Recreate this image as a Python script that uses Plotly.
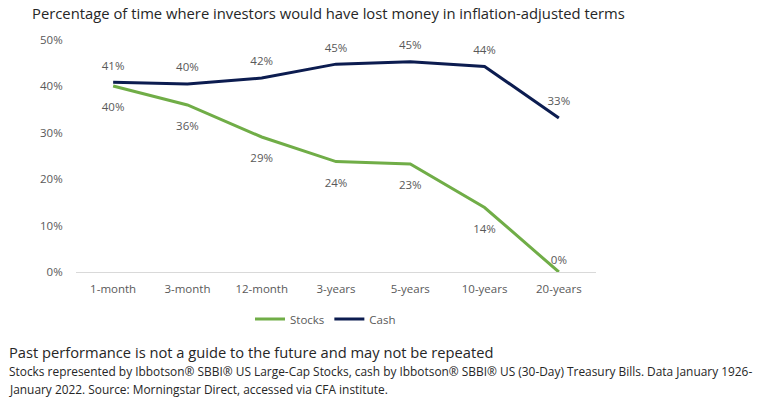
import plotly.graph_objects as go

categories = ["1-month", "3-month", "12-month", "3-years", "5-years", "10-years", "20-years"]
stocks = [40.1, 36.0, 29.1, 23.8, 23.3, 13.9, 0.0]
cash = [40.9, 40.5, 41.8, 44.8, 45.3, 44.3, 33.2]
stocks_pos = ["bottom center"] * 6 + ["top center"]
cash_pos = ["top center"] * 7
y_ticks = [0, 10, 20, 30, 40, 50]
y_ticklabels = ["0%", "10%", "20%", "30%", "40%", "50%"]

title_text = "Percentage of time where investors would have lost money in inflation-adjusted terms"
foot1 = "Past performance is not a guide to the future and may not be repeated"
foot2 = ("Stocks represented by Ibbotson® SBBI® US Large-Cap Stocks, cash by Ibbotson® SBBI® US "
         "(30-Day) Treasury Bills. Data January 1926-")
foot3 = "January 2022. Source: Morningstar Direct, accessed via CFA institute."

GREEN = "#70AD47"
NAVY = "#0C1C50"
LABEL = "#595959"
FONT = "Open Sans"

# invisible marker sizes only control the label offset from the line
stocks_msize = [25] * 6 + [6]
cash_msize = [14] * 7

fig = go.Figure()
fig.add_trace(go.Scatter(
    x=categories, y=stocks, name="Stocks", mode="lines+markers+text",
    line=dict(color=GREEN, width=3),
    marker=dict(size=stocks_msize, color="rgba(0,0,0,0)", line=dict(width=0, color="rgba(0,0,0,0)")),
    text=[f"{round(v)}%" for v in stocks], textposition=stocks_pos,
    textfont=dict(family=FONT, size=11.5, color=LABEL),
    hoverinfo="skip",
))
fig.add_trace(go.Scatter(
    x=categories, y=cash, name="Cash", mode="lines+markers+text",
    line=dict(color=NAVY, width=3),
    marker=dict(size=cash_msize, color="rgba(0,0,0,0)", line=dict(width=0, color="rgba(0,0,0,0)")),
    text=[f"{round(v)}%" for v in cash], textposition=cash_pos,
    textfont=dict(family=FONT, size=11.5, color=LABEL),
    hoverinfo="skip",
))

fig.update_layout(
    width=758, height=399,
    margin=dict(l=76, r=162, t=40, b=127),
    paper_bgcolor="white", plot_bgcolor="white",
    font=dict(family=FONT, size=11.5, color=LABEL),
    title=dict(text=title_text, xref="container", yref="container",
               x=32 / 758, xanchor="left", y=1 - 14 / 399, yanchor="middle",
               font=dict(family=FONT, size=14.8, color="#262626")),
    showlegend=True,
    legend=dict(orientation="h", x=(250 - 76) / 520, xanchor="left",
                y=(272 - 319) / 232, yanchor="middle",
                font=dict(family=FONT, size=11.5, color=LABEL), itemwidth=30,
                bgcolor="rgba(0,0,0,0)"),
    xaxis=dict(type="category", range=[-0.5, 6.5], showgrid=False, showline=True,
               linecolor="#D9D9D9", linewidth=1, ticks="outside", ticklen=6,
               tickcolor="rgba(0,0,0,0)", tickfont=dict(family=FONT, size=11.5, color=LABEL),
               fixedrange=True),
    yaxis=dict(range=[0, 50], tickvals=y_ticks, ticktext=y_ticklabels, showgrid=False,
               zeroline=False, showline=False, ticks="outside", ticklen=10,
               tickcolor="rgba(0,0,0,0)", tickfont=dict(family=FONT, size=11.5, color=LABEL),
               fixedrange=True),
)

fig.add_annotation(text=foot1, xref="paper", yref="paper", x=(7 - 76) / 520, y=(272 - 352) / 232,
                   xanchor="left", yanchor="middle", showarrow=False,
                   font=dict(family=FONT, size=14.7, color="#262626"))
fig.add_annotation(text=foot2, xref="paper", yref="paper", x=(7 - 76) / 520, y=(272 - 371) / 232,
                   xanchor="left", yanchor="middle", showarrow=False,
                   font=dict(family=FONT, size=11.9, color="#262626"))
fig.add_annotation(text=foot3, xref="paper", yref="paper", x=(7 - 76) / 520, y=(272 - 389) / 232,
                   xanchor="left", yanchor="middle", showarrow=False,
                   font=dict(family=FONT, size=11.9, color="#262626"))

fig.write_html("out.html", config={"displayModeBar": False},
               post_script="document.body.style.margin='0';")
